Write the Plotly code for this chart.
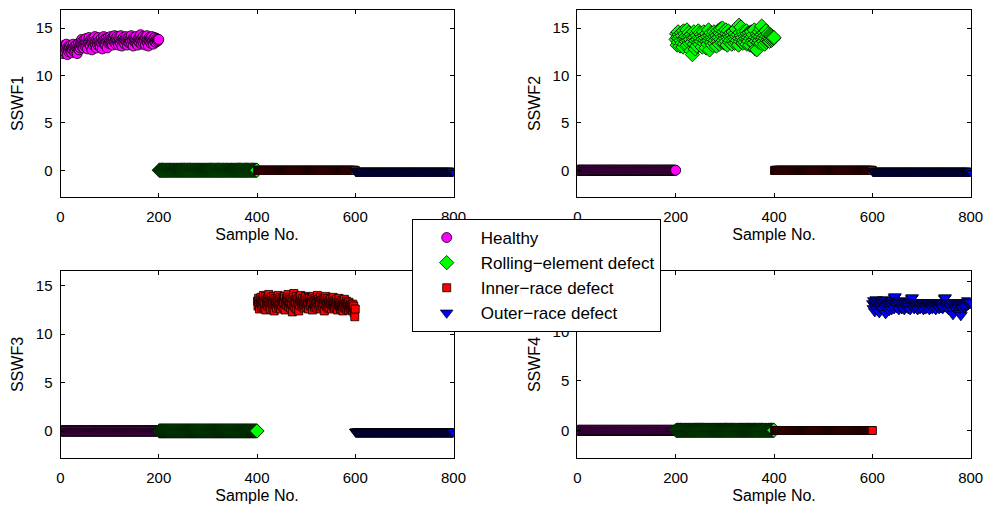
import plotly.graph_objects as go

# ---------------- data ----------------
class_names = ["Healthy", "Rolling\u2212element defect", "Inner\u2212race defect", "Outer\u2212race defect"]
feature_names = ["SSWF1", "SSWF2", "SSWF3", "SSWF4"]
x_ticks = [0, 200, 400, 600, 800]
y_ticks = [0, 5, 10, 15]

# active-class values (samples 1-200, 201-400, 401-600, 601-800)
sswf1_healthy = [
    12.9, 12.5, 13.1, 12.7, 12.3, 13.0, 12.8, 12.6, 13.2, 12.4,
    12.9, 13.3, 12.7, 12.2, 13.0, 12.8, 12.5, 13.1, 12.9, 12.6,
    13.2, 12.8, 12.4, 13.0, 12.7, 13.3, 12.9, 12.5, 13.1, 12.8,
    12.6, 13.2, 12.9, 12.3, 13.0, 12.8, 13.4, 12.7, 13.1, 12.9,
    13.5, 13.2, 13.8, 13.0, 13.6, 13.3, 12.9, 13.7, 13.4, 13.1,
    13.6, 13.9, 13.2, 13.5, 12.8, 13.7, 13.4, 14.0, 13.3, 13.6,
    13.1, 13.8, 13.5, 12.7, 13.6, 13.9, 13.2, 13.7, 13.4, 14.1,
    13.3, 13.6, 12.9, 13.8, 13.5, 13.2, 14.0, 13.6, 13.3, 13.7,
    13.0, 13.5, 13.9, 13.4, 12.8, 13.7, 13.6, 14.1, 13.3, 13.8,
    13.5, 13.2, 13.9, 13.6, 12.9, 13.7, 14.0, 13.4, 13.8, 13.5,
    13.7, 14.1, 13.4, 13.9, 13.6, 13.2, 14.0, 13.8, 13.5, 14.2,
    13.6, 13.9, 13.3, 13.8, 14.1, 13.5, 13.7, 13.2, 14.0, 13.6,
    13.8, 13.4, 14.2, 13.7, 13.1, 13.9, 13.6, 14.0, 13.5, 13.8,
    13.3, 13.7, 14.1, 13.6, 13.9, 13.2, 13.8, 13.5, 14.0, 13.7,
    13.4, 13.9, 13.6, 14.2, 13.3, 13.8, 13.7, 13.1, 14.0, 13.6,
    13.9, 13.5, 13.8, 14.1, 13.4, 13.7, 13.2, 13.9, 13.6, 14.0,
    13.5, 13.8, 14.3, 13.7, 13.3, 13.9, 13.6, 14.1, 13.4, 13.8,
    13.7, 14.0, 13.2, 13.9, 13.6, 14.2, 13.5, 13.8, 13.1, 13.7,
    14.0, 13.6, 13.9, 13.4, 13.8, 14.1, 13.5, 13.7, 13.3, 13.9,
    13.6, 14.0, 13.7, 13.5, 13.8, 13.9, 13.6, 13.8, 13.7, 13.8,
]
sswf2_rolling = [
    13.8, 14.4, 13.2, 14.0, 14.6, 13.5, 13.9, 14.3, 13.1, 14.1,
    13.7, 14.5, 13.4, 14.2, 13.0, 14.7, 13.8, 13.3, 14.4, 13.9,
    14.1, 13.6, 14.8, 13.2, 14.0, 13.7, 14.5, 13.4, 14.2, 13.8,
    12.6, 14.3, 13.5, 12.2, 14.1, 13.9, 14.6, 13.3, 14.0, 12.8,
    13.7, 14.4, 13.1, 14.2, 13.8, 14.7, 13.5, 14.0, 13.3, 14.5,
    13.9, 13.6, 14.3, 13.0, 14.1, 13.8, 14.6, 13.4, 14.2, 13.7,
    14.0, 12.9, 14.4, 13.6, 14.1, 13.3, 14.8, 13.7, 12.7, 14.2,
    13.9, 14.5, 13.5, 14.0, 13.2, 14.3, 13.8, 14.6, 13.4, 14.1,
    13.7, 14.4, 13.1, 14.2, 13.9, 14.7, 13.6, 14.0, 13.3, 14.5,
    14.9, 13.8, 14.3, 13.5, 15.0, 14.1, 13.7, 14.6, 13.4, 14.2,
    13.9, 14.8, 13.6, 14.4, 13.2, 14.0, 14.7, 13.8, 14.3, 13.5,
    14.1, 13.7, 14.5, 13.3, 14.2, 13.9, 14.6, 13.6, 14.0, 13.4,
    14.4, 13.8, 14.9, 13.5, 14.1, 13.7, 14.3, 13.2, 15.3, 13.9,
    14.5, 13.6, 15.1, 14.2, 13.8, 14.0, 13.4, 14.6, 13.7, 14.3,
    13.5, 14.1, 13.9, 14.7, 13.3, 14.4, 13.8, 14.0, 13.6, 14.5,
    13.2, 14.2, 13.9, 14.6, 13.5, 14.1, 13.7, 14.3, 13.4, 14.8,
    13.8, 12.8, 14.0, 13.6, 12.7, 14.4, 13.9, 14.2, 13.5, 14.6,
    13.7, 14.1, 14.9, 13.4, 15.2, 14.3, 13.8, 14.0, 13.6, 14.5,
    13.3, 14.2, 13.9, 14.7, 13.5, 14.1, 13.7, 14.4, 13.8, 14.0,
    13.6, 14.3, 13.9, 14.2, 13.7, 14.1, 13.8, 14.0, 13.9, 14.0,
]
sswf3_inner = [
    13.4, 12.9, 13.7, 13.1, 12.6, 13.5, 13.2, 13.8, 12.8, 13.3,
    13.6, 13.0, 14.0, 13.4, 12.7, 13.2, 13.9, 12.5, 13.5, 13.1,
    13.7, 12.9, 13.3, 14.1, 13.0, 13.6, 12.6, 13.4, 13.8, 13.2,
    12.8, 13.5, 13.1, 13.9, 12.4, 13.3, 13.7, 13.0, 13.4, 12.7,
    13.6, 13.2, 14.0, 12.9, 13.5, 13.1, 13.8, 12.6, 13.3, 13.0,
    13.7, 13.4, 12.8, 13.6, 13.2, 13.9, 12.5, 13.3, 13.1, 13.7,
    13.0, 13.5, 14.1, 12.9, 13.4, 13.2, 13.8, 12.7, 13.6, 13.1,
    13.3, 12.3, 13.7, 13.0, 14.2, 13.5, 12.8, 13.4, 13.2, 13.9,
    12.6, 13.3, 13.6, 13.1, 12.4, 13.8, 13.0, 13.5, 14.0, 13.2,
    13.4, 12.9, 13.7, 13.1, 13.3, 12.7, 13.6, 13.0, 13.9, 13.2,
    12.8, 13.5, 13.1, 13.8, 12.6, 13.3, 13.7, 13.0, 13.4, 12.9,
    13.6, 13.2, 12.5, 13.9, 13.1, 13.4, 12.8, 13.7, 13.0, 13.5,
    13.3, 12.7, 14.0, 13.2, 13.6, 12.9, 13.4, 13.1, 13.8, 12.6,
    13.5, 13.0, 13.3, 12.8, 13.7, 13.2, 12.4, 13.6, 13.1, 13.9,
    12.9, 13.4, 13.0, 13.7, 12.7, 13.3, 13.5, 12.8, 13.2, 13.6,
    13.1, 12.6, 13.4, 13.0, 13.8, 12.9, 13.3, 12.7, 13.5, 13.2,
    12.8, 13.6, 13.1, 12.5, 13.4, 13.0, 13.7, 12.9, 13.3, 12.6,
    13.2, 12.8, 13.5, 13.0, 12.4, 13.3, 12.9, 13.6, 12.7, 13.1,
    12.8, 13.4, 12.6, 13.2, 13.0, 12.5, 13.3, 12.9, 12.7, 13.1,
    12.6, 13.0, 12.8, 12.4, 13.1, 12.7, 12.9, 12.2, 11.8, 12.6,
]
sswf4_outer = [
    12.8, 12.3, 13.1, 12.6, 12.0, 12.9, 12.5, 13.2, 12.2, 12.7,
    13.0, 12.4, 12.8, 11.9, 12.6, 13.1, 12.3, 12.7, 12.5, 13.0,
    12.2, 12.8, 12.6, 13.2, 12.4, 12.9, 11.8, 12.5, 13.1, 12.7,
    12.3, 12.9, 12.6, 12.1, 12.8, 12.4, 13.0, 12.7, 12.2, 12.9,
    12.5, 13.1, 12.8, 12.3, 13.4, 13.5, 12.6, 12.9, 12.4, 12.7,
    13.0, 12.5, 12.8, 12.2, 12.9, 12.6, 13.1, 12.4, 12.7, 12.3,
    12.8, 12.5, 13.0, 12.6, 12.2, 12.9, 12.7, 12.4, 12.8, 12.5,
    12.6, 12.9, 12.3, 12.7, 12.5, 12.8, 12.2, 12.6, 12.9, 13.3,
    13.4, 12.7, 12.5, 12.8, 12.3, 12.6, 12.9, 12.4, 12.7, 12.5,
    12.8, 12.2, 12.6, 12.9, 12.4, 12.7, 12.3, 12.8, 12.5, 12.6,
    12.9, 12.4, 12.7, 12.2, 12.8, 12.5, 12.6, 12.9, 12.3, 12.7,
    12.5, 12.8, 12.4, 12.6, 12.9, 12.2, 12.7, 12.5, 12.8, 12.4,
    12.6, 12.3, 12.8, 12.5, 12.7, 12.9, 12.4, 12.6, 12.2, 12.8,
    12.5, 12.7, 12.4, 12.9, 12.6, 12.3, 12.8, 12.5, 12.7, 12.4,
    12.6, 12.8, 12.3, 12.7, 12.5, 12.9, 13.3, 13.4, 12.6, 12.8,
    12.4, 12.7, 12.5, 12.8, 12.2, 12.6, 12.9, 12.4, 12.7, 12.5,
    12.3, 12.8, 12.1, 11.7, 12.6, 12.4, 12.9, 12.5, 12.7, 12.2,
    12.8, 12.4, 12.6, 12.9, 12.3, 12.7, 12.5, 12.8, 11.8, 11.6,
    12.4, 12.7, 12.3, 12.8, 12.5, 12.6, 12.9, 12.4, 12.7, 12.5,
    12.8, 12.6, 12.9, 13.1, 12.7, 12.8, 12.9, 13.0, 12.8, 12.9,
]
active_values = [sswf1_healthy, sswf2_rolling, sswf3_inner, sswf4_outer]

# flat level of the non-active classes in each feature (Healthy, Rolling, Inner, Outer)
sswf1_levels = [None, 0.02, 0.0, -0.08]
sswf2_levels = [0.02, None, 0.0, -0.08]
sswf3_levels = [0.02, 0.02, None, -0.08]
sswf4_levels = [0.02, 0.02, 0.0, None]
flat_levels = [sswf1_levels, sswf2_levels, sswf3_levels, sswf4_levels]

y_ranges = [[-2.8, 16.9], [-2.8, 16.9], [-2.8, 16.55], [-2.8, 16.1]]

# ---------------- style ----------------
FONT = "Liberation Sans, Arial, Helvetica, sans-serif"
symbols = ["circle", "diamond", "square", "triangle-down"]
colors = ["#ff00ff", "#00ff00", "#ff0000", "#0000ff"]
sizes = [10, 11, 8, 11]

W, H = 985, 512
x_domains = [[60.5 / W, 453.5 / W], [577.3 / W, 970.7 / W]]
y_domains = [[1 - 197 / H, 1 - 10 / H], [1 - 458.3 / H, 1 - 270.7 / H]]

fig = go.Figure()
n_per_class = 200
for k in range(4):
    ax = "" if k == 0 else str(k + 1)
    for c in range(4):
        xs = list(range(c * n_per_class + 1, (c + 1) * n_per_class + 1))
        if c == k:
            ys = active_values[k]
        else:
            ys = [flat_levels[k][c]] * n_per_class
        fig.add_trace(go.Scatter(
            x=xs, y=ys, mode="markers", name=class_names[c],
            legendgroup=class_names[c], showlegend=(k == 0),
            marker=dict(symbol=symbols[c], color=colors[c], size=sizes[c],
                        line=dict(color="black", width=0.8)),
            xaxis="x" + ax, yaxis="y" + ax,
        ))

layout = dict(
    width=W, height=H, autosize=False, margin=dict(l=0, r=0, t=0, b=0),
    paper_bgcolor="white", plot_bgcolor="white",
    font=dict(family=FONT, size=14, color="black"),
    legend=dict(x=411.7 / W, y=1 - 219 / H, xanchor="left", yanchor="top",
                bgcolor="white", bordercolor="black", borderwidth=1,
                font=dict(size=17, family=FONT), tracegroupgap=0,
                itemwidth=58, traceorder="grouped"),
)
for k in range(4):
    ax = "" if k == 0 else str(k + 1)
    row, col = divmod(k, 2)
    common = dict(showline=True, linecolor="black", linewidth=1, mirror="allticks",
                  ticks="inside", ticklen=4, tickcolor="black", showgrid=False,
                  zeroline=False, automargin=False, tickfont=dict(size=15, family=FONT))
    layout["xaxis" + ax] = dict(
        common, domain=x_domains[col], range=[0, 800], tickvals=x_ticks,
        anchor="y" + ax, ticklabelstandoff=6,
        title=dict(text="Sample No.", font=dict(size=16, family=FONT), standoff=4),
    )
    layout["yaxis" + ax] = dict(
        common, domain=y_domains[row], range=y_ranges[k], tickvals=y_ticks,
        anchor="x" + ax, ticklabelstandoff=4,
        title=dict(text=feature_names[k], font=dict(size=16, family=FONT), standoff=8),
    )
fig.update_layout(**layout)
fig.write_html(
    "out.html",
    config={"responsive": False, "displayModeBar": False},
    post_script="document.body.style.margin='0px';document.body.style.overflow='hidden';",
)
